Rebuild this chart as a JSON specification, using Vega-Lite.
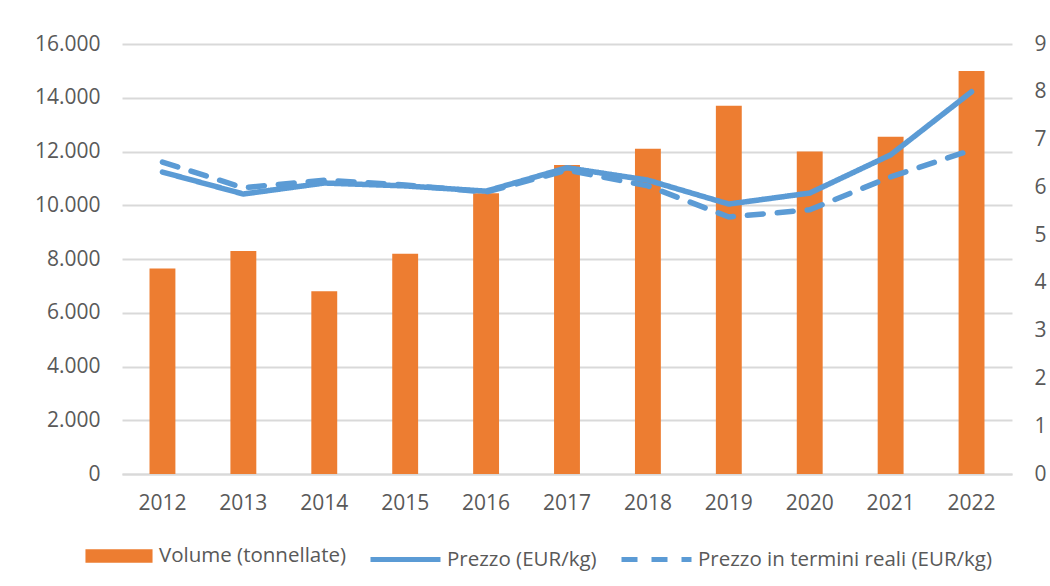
{
  "$schema": "https://vega.github.io/schema/vega-lite/v6.json",
  "width": 890,
  "height": 430,
  "autosize": "none",
  "padding": {"left": 122, "top": 44, "right": 38, "bottom": 112},
  "background": "white",
  "config": {
    "locale": {"number": {"decimal": ",", "thousands": ".", "grouping": [3], "currency": ["€", ""]}},
    "font": "Open Sans",
    "view": {"stroke": null},
    "axis": {"labelFont": "Open Sans", "labelFontSize": 21, "labelColor": "#595959", "ticks": false, "domain": false},
    "legend": {"labelFont": "Open Sans", "labelFontSize": 20.5, "labelColor": "#595959", "labelLimit": 0}
  },
  "datasets": {
    "volume": [
      {"anno": "2012", "serie": "Volume (tonnellate)", "volume": 7650},
      {"anno": "2013", "serie": "Volume (tonnellate)", "volume": 8300},
      {"anno": "2014", "serie": "Volume (tonnellate)", "volume": 6800},
      {"anno": "2015", "serie": "Volume (tonnellate)", "volume": 8200},
      {"anno": "2016", "serie": "Volume (tonnellate)", "volume": 10450},
      {"anno": "2017", "serie": "Volume (tonnellate)", "volume": 11500},
      {"anno": "2018", "serie": "Volume (tonnellate)", "volume": 12100},
      {"anno": "2019", "serie": "Volume (tonnellate)", "volume": 13700},
      {"anno": "2020", "serie": "Volume (tonnellate)", "volume": 12000},
      {"anno": "2021", "serie": "Volume (tonnellate)", "volume": 12550},
      {"anno": "2022", "serie": "Volume (tonnellate)", "volume": 15000}
    ],
    "prezzi": [
      {"anno": "2012", "serie": "Prezzo (EUR/kg)", "prezzo": 6.32},
      {"anno": "2013", "serie": "Prezzo (EUR/kg)", "prezzo": 5.86},
      {"anno": "2014", "serie": "Prezzo (EUR/kg)", "prezzo": 6.09},
      {"anno": "2015", "serie": "Prezzo (EUR/kg)", "prezzo": 6.03},
      {"anno": "2016", "serie": "Prezzo (EUR/kg)", "prezzo": 5.92},
      {"anno": "2017", "serie": "Prezzo (EUR/kg)", "prezzo": 6.41},
      {"anno": "2018", "serie": "Prezzo (EUR/kg)", "prezzo": 6.15},
      {"anno": "2019", "serie": "Prezzo (EUR/kg)", "prezzo": 5.65},
      {"anno": "2020", "serie": "Prezzo (EUR/kg)", "prezzo": 5.88},
      {"anno": "2021", "serie": "Prezzo (EUR/kg)", "prezzo": 6.68},
      {"anno": "2022", "serie": "Prezzo (EUR/kg)", "prezzo": 8.0},
      {"anno": "2012", "serie": "Prezzo in termini reali (EUR/kg)", "prezzo": 6.53},
      {"anno": "2013", "serie": "Prezzo in termini reali (EUR/kg)", "prezzo": 5.99},
      {"anno": "2014", "serie": "Prezzo in termini reali (EUR/kg)", "prezzo": 6.15},
      {"anno": "2015", "serie": "Prezzo in termini reali (EUR/kg)", "prezzo": 6.05},
      {"anno": "2016", "serie": "Prezzo in termini reali (EUR/kg)", "prezzo": 5.90},
      {"anno": "2017", "serie": "Prezzo in termini reali (EUR/kg)", "prezzo": 6.36},
      {"anno": "2018", "serie": "Prezzo in termini reali (EUR/kg)", "prezzo": 6.03},
      {"anno": "2019", "serie": "Prezzo in termini reali (EUR/kg)", "prezzo": 5.38},
      {"anno": "2020", "serie": "Prezzo in termini reali (EUR/kg)", "prezzo": 5.53},
      {"anno": "2021", "serie": "Prezzo in termini reali (EUR/kg)", "prezzo": 6.22},
      {"anno": "2022", "serie": "Prezzo in termini reali (EUR/kg)", "prezzo": 6.78}
    ]
  },
  "layer": [
    {
      "data": {"name": "volume"},
      "mark": {"type": "bar"},
      "encoding": {
        "x": {
          "field": "anno", "type": "nominal", "title": null,
          "scale": {"paddingInner": 0.68, "paddingOuter": 0.34},
          "axis": {"labelAngle": 0, "labelPadding": 18, "domain": true, "domainColor": "#D9D9D9", "domainWidth": 2, "grid": false}
        },
        "y": {
          "field": "volume", "type": "quantitative", "title": null,
          "scale": {"domain": [0, 16000]},
          "axis": {"values": [0, 2000, 4000, 6000, 8000, 10000, 12000, 14000, 16000], "format": ",d", "grid": true, "gridColor": "#D9D9D9", "gridWidth": 2, "labelPadding": 22}
        },
        "color": {
          "field": "serie", "type": "nominal",
          "scale": {"range": ["#ED7D31"]},
          "legend": {"title": null, "orient": "none", "legendX": -37, "legendY": 478, "symbolType": "M-1,-0.2H1V0.2H-1Z", "symbolSize": 4500, "symbolStrokeWidth": 0, "symbolOpacity": 1, "labelOffset": 6}
        }
      }
    },
    {
      "data": {"name": "prezzi"},
      "mark": {"type": "line", "strokeWidth": 5.5, "color": "#5B9BD5", "strokeCap": "round"},
      "encoding": {
        "x": {"field": "anno", "type": "nominal"},
        "y": {
          "field": "prezzo", "type": "quantitative", "title": null,
          "scale": {"domain": [0, 9]},
          "axis": {"orient": "right", "values": [0, 1, 2, 3, 4, 5, 6, 7, 8, 9], "grid": false, "labelPadding": 22}
        },
        "strokeDash": {
          "field": "serie", "type": "nominal",
          "scale": {"domain": ["Prezzo (EUR/kg)", "Prezzo in termini reali (EUR/kg)"], "range": [[1, 0], [16, 14]]},
          "legend": {"title": null, "orient": "none", "direction": "horizontal", "legendX": 246, "legendY": 478, "symbolType": "stroke", "symbolSize": 4900, "symbolStrokeColor": "#5B9BD5", "symbolStrokeWidth": 5, "labelOffset": 4, "columnPadding": 14}
        }
      }
    }
  ],
  "resolve": {"scale": {"y": "independent"}}
}
